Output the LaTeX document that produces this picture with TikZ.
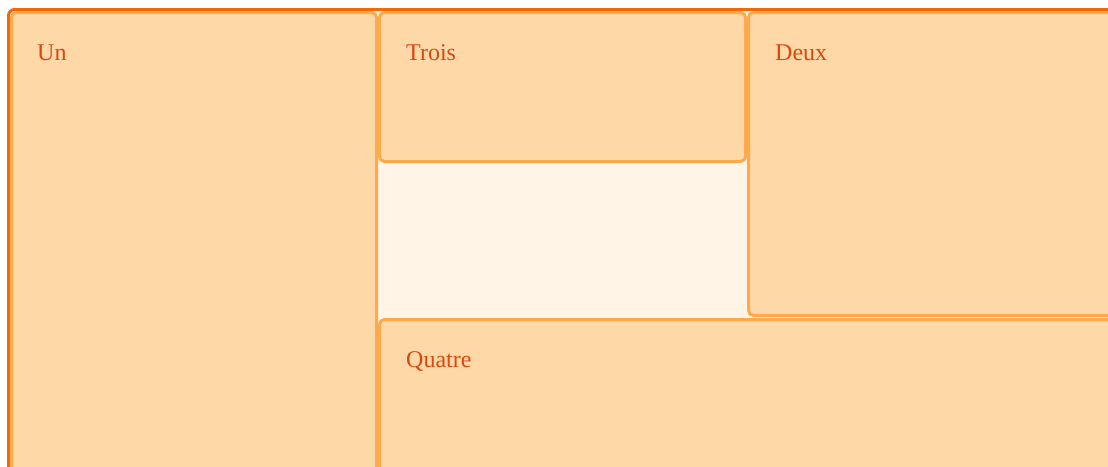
\documentclass[tikz,border=0pt]{standalone}
\usepackage{fontspec}
\setmainfont{Liberation Serif}
\usepackage{xcolor}
\definecolor{FrameOrange}{RGB}{247,103,7}
\definecolor{GridBack}{RGB}{255,244,230}
\definecolor{CellFill}{RGB}{255,216,168}
\definecolor{CellBorder}{RGB}{255,169,77}
\definecolor{LabelRed}{RGB}{217,72,15}
\usepackage{tikz}
\usetikzlibrary{positioning, calc}
\tikzset{
  % Grid container
  gridframe/.style={
    rectangle, rounded corners=6pt,
    draw=FrameOrange, line width=3pt,
    fill=GridBack,
    outer sep=0pt, inner sep=0pt,
    anchor=north west
  },
  % Grid item
  cell/.style={
    rectangle, rounded corners=5pt,
    draw=CellBorder, line width=3pt,
    fill=CellFill,
    outer sep=0pt, inner sep=0pt,
    anchor=north west
  },
  % Item label
  clabel/.style={
    font=\fontsize{24}{28}\selectfont,
    text=LabelRed, inner sep=0pt,
    anchor=base west
  },
}
\begin{document}
\begin{tikzpicture}[x=1pt, y=-1pt]

  \useasboundingbox (0,0) rectangle (1108,466);
  \clip (0,0) rectangle (1108,466);

  %% Container
  \node[gridframe, minimum width=1200pt, minimum height=560pt] (grid) at (8.5,9.5) {};

  %% Items
  \node[cell, minimum width=365pt, minimum height=520pt] (un)     at (11.5,12.5)  {};
  \node[cell, minimum width=366pt, minimum height=149pt] (trois)  at (379.5,12.5) {};
  \node[cell, minimum width=366pt, minimum height=303pt] (deux)   at (748.5,12.5) {};
  \node[cell, minimum width=760pt, minimum height=220pt] (quatre) at (379.5,319.5) {};

  %% Labels
  \node[clabel] (un label)     at ($(un.north west)+(25.5,47.5)$)     {Un};
  \node[clabel] (trois label)  at ($(trois.north west)+(26.5,47.5)$)  {Trois};
  \node[clabel] (deux label)   at ($(deux.north west)+(26.5,47.5)$)   {Deux};
  \node[clabel] (quatre label) at ($(quatre.north west)+(26.5,47.5)$) {Quatre};

\end{tikzpicture}
\end{document}
